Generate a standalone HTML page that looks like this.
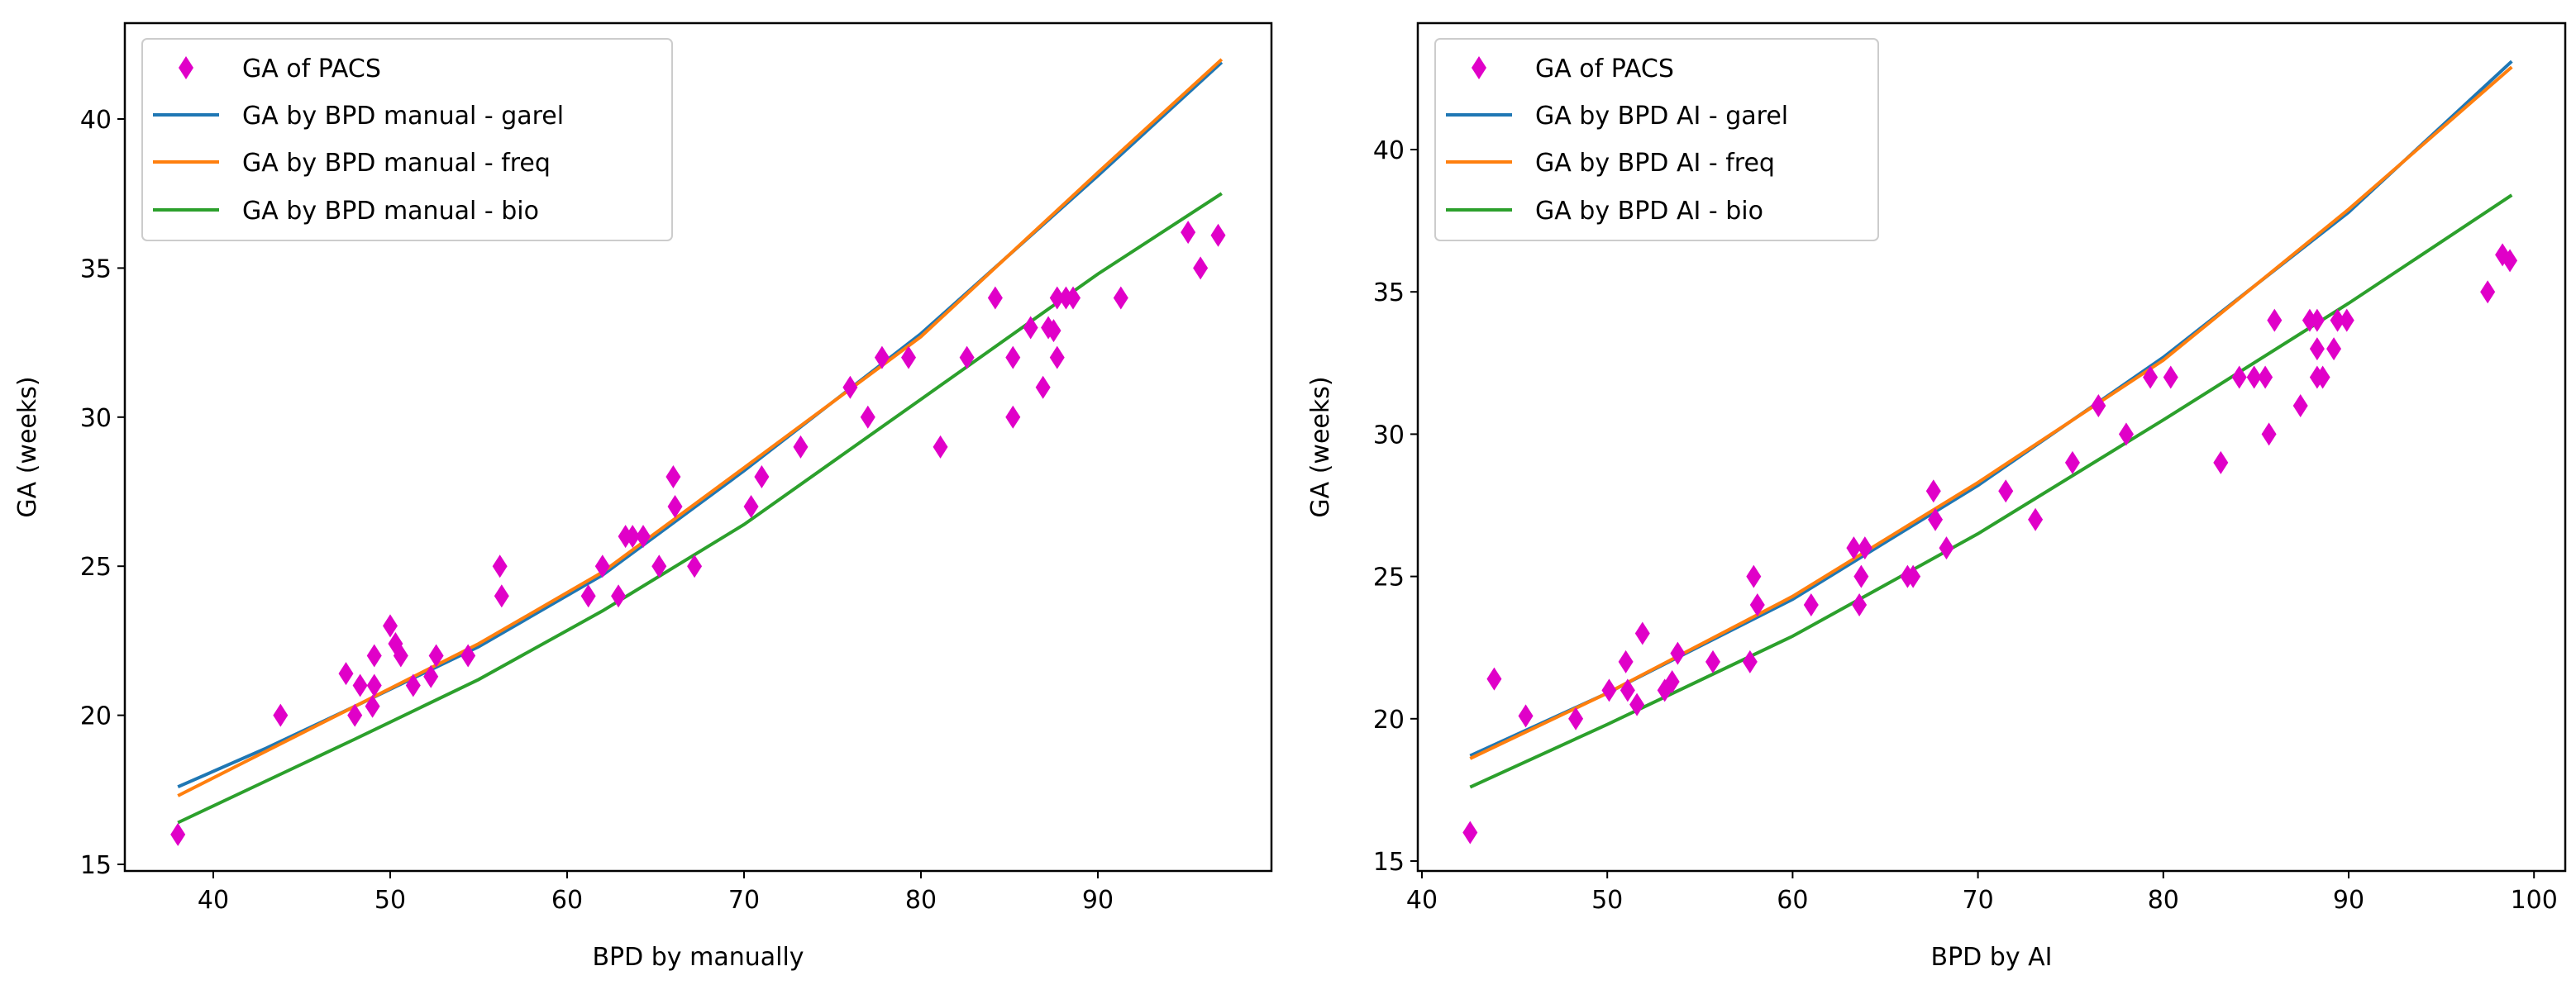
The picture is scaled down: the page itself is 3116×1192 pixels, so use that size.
<!DOCTYPE html>
<html><head><meta charset="utf-8"><style>
html,body{margin:0;padding:0;background:#fff;}
svg{display:block;font-family:"DejaVu Sans","Liberation Sans",sans-serif;}
</style></head><body>
<svg id="fig" width="3116" height="1192" viewBox="0 0 3116 1192" xmlns="http://www.w3.org/2000/svg"></svg>
<script>
// ---- Left chart data ----
const leftBPD = [38,43.8,47.5,48,48.3,49,49.1,49.1,50,50.3,50.6,51.3,52.3,52.6,54.4,56.2,56.3,61.2,62,62.9,63.3,63.7,64.3,65.2,66,66.1,67.2,70.4,71,73.2,76,77,77.8,79.3,81.1,82.6,84.2,85.2,85.2,86.2,86.9,87.2,87.5,87.7,87.7,88.2,88.6,91.3,95.1,95.8,96.8];
const leftGA = [16,20,21.4,20,21,20.3,21,22,23,22.4,22,21,21.3,22,22,25,24,24,25,24,26,26,26,25,28,27,25,27,28,29,31,30,32,32,29,32,34,32,30,33,31,33,32.9,34,32,34,34,34,36.2,35,36.1];
const leftLineX = [38,43,48,55,62,70,80,90,97];
const leftGarel = [17.6,18.9,20.3,22.3,24.7,28.2,32.8,38.1,41.9];
const leftFreq = [17.3,18.8,20.3,22.4,24.8,28.3,32.7,38.2,42.0];
const leftBio = [16.4,17.8,19.2,21.2,23.5,26.4,30.6,34.8,37.5];
const leftXTicks = [40,50,60,70,80,90];
const leftYTicks = [15,20,25,30,35,40];
// ---- Right chart data ----
const rightBPD = [42.6,43.9,45.6,48.3,50.1,51,51.1,51.6,51.9,53.1,53.5,53.8,55.7,57.7,57.9,58.1,61,63.3,63.6,63.7,63.9,66.2,66.5,67.6,67.7,68.3,71.5,73.1,75.1,76.5,78,79.3,80.4,83.1,84.1,84.9,85.5,85.7,86,87.4,87.9,88.3,88.3,88.3,88.6,89.2,89.4,89.9,97.5,98.3,98.7];
const rightGA = [16,21.4,20.1,20,21,22,21,20.5,23,21,21.3,22.3,22,22,25,24,24,26,24,25,26,25,25,28,27,26,28,27,29,31,30,32,32,29,32,32,32,30,34,31,34,34,33,32,32,33,34,34,35,36.3,36.1];
const rightLineX = [42.6,50,60,70,80,90,98.8];
const rightGarel = [18.7,20.9,24.2,28.2,32.7,37.8,43.1];
const rightFreq = [18.6,20.9,24.3,28.3,32.6,37.9,42.9];
const rightBio = [17.6,19.8,22.9,26.5,30.5,34.6,38.4];
const rightXTicks = [40,50,60,70,80,90,100];
const rightYTicks = [15,20,25,30,35,40];

const NS = "http://www.w3.org/2000/svg";
const svg = document.getElementById('fig');
function mk(tag, attrs, parent){const e=document.createElementNS(NS,tag);for(const k in attrs)e.setAttribute(k,attrs[k]);(parent||svg).appendChild(e);return e;}

function chart(cfg){
  const g = mk('g',{});
  
  
  const X = v => cfg.x0px + (v - cfg.x0v) * cfg.xs;
  const Y = v => cfg.y0px - (v - cfg.y0v) * cfg.ys;
  const cols = ['#1f77b4','#ff7f0e','#2ca02c'];
  const lineNames = ['garel-line','freq-line','bio-line'];
  [cfg.garel,cfg.freq,cfg.bio].forEach((arr,i)=>{
    const d = arr.map((v,j)=>(j?'L':'M')+X(cfg.lx[j]).toFixed(1)+' '+Y(v).toFixed(1)).join(' ');
    const p = mk('path',{d:d,fill:'none',stroke:cols[i],'stroke-width':4},g);
    
    
  });
  cfg.px.forEach((xv,i)=>{
    const cx=X(xv), cy=Y(cfg.py[i]);
    const p = mk('polygon',{points:`${cx},${cy-14} ${cx+9},${cy} ${cx},${cy+14} ${cx-9},${cy}`,fill:'#e000c8'},g);
    
    
  });
  const fr = mk('rect',{x:cfg.l,y:cfg.t,width:cfg.r-cfg.l,height:cfg.b-cfg.t,fill:'none',stroke:'#000','stroke-width':2.5},g);
  
  
  cfg.xt.forEach(v=>{
    const x=X(v);
    mk('line',{x1:x,x2:x,y1:cfg.b,y2:cfg.b+9,stroke:'#000','stroke-width':2},g);
    const t=mk('text',{x:x,y:cfg.b+45,'font-size':30,'text-anchor':'middle',fill:'#000'},g);
    t.textContent=v;
    
    
  });
  cfg.yt.forEach(v=>{
    const y=Y(v);
    mk('line',{x1:cfg.l-9,x2:cfg.l,y1:y,y2:y,stroke:'#000','stroke-width':2},g);
    const t=mk('text',{x:cfg.l-16,y:y+11,'font-size':30,'text-anchor':'end',fill:'#000'},g);
    t.textContent=v;
    
    
  });
  const xl=mk('text',{x:(cfg.l+cfg.r)/2,y:1168,'font-size':30,'text-anchor':'middle'},g);
  xl.textContent=cfg.xlabel;
  
  
  const yl=mk('text',{x:0,y:0,'font-size':30,'text-anchor':'middle',transform:`translate(${cfg.l-108},${(cfg.t+cfg.b)/2}) rotate(-90)`},g);
  yl.textContent='GA (weeks)';
  
  
  const lg = mk('g',{},g);
  
  
  mk('rect',{x:cfg.lgx,y:47,width:cfg.lgw,height:244,rx:6,fill:'#fff','fill-opacity':0.85,stroke:'#ccc','stroke-width':2},lg);
  const ys=[82,139,196,254];
  const cx=cfg.lgx+53;
  mk('polygon',{points:`${cx},${ys[0]-14} ${cx+9},${ys[0]} ${cx},${ys[0]+14} ${cx-9},${ys[0]}`,fill:'#e000c8'},lg);
  ['#1f77b4','#ff7f0e','#2ca02c'].forEach((c,i)=>mk('line',{x1:cfg.lgx+13,x2:cfg.lgx+93,y1:ys[i+1],y2:ys[i+1],stroke:c,'stroke-width':4},lg));
  cfg.labels.forEach((s,i)=>{
    const t=mk('text',{x:cfg.lgx+121,y:ys[i]+11,'font-size':30},lg);
    t.textContent=s;
    
    
  });
}

chart({name:'left-chart',l:151,r:1538,t:28,b:1054,x0px:258,x0v:40,xs:21.4,y0px:1046,y0v:15,ys:36.08,
  px:leftBPD,py:leftGA,lx:leftLineX,garel:leftGarel,freq:leftFreq,bio:leftBio,xt:leftXTicks,yt:leftYTicks,
  xlabel:'BPD by manually',lgx:172,lgw:641,
  labels:['GA of PACS','GA by BPD manual - garel','GA by BPD manual - freq','GA by BPD manual - bio']});
chart({name:'right-chart',l:1715,r:3103,t:28,b:1054,x0px:1720,x0v:40,xs:22.42,y0px:1042,y0v:15,ys:34.44,
  px:rightBPD,py:rightGA,lx:rightLineX,garel:rightGarel,freq:rightFreq,bio:rightBio,xt:rightXTicks,yt:rightYTicks,
  xlabel:'BPD by AI',lgx:1736,lgw:536,
  labels:['GA of PACS','GA by BPD AI - garel','GA by BPD AI - freq','GA by BPD AI - bio']});
</script>
</body></html>
